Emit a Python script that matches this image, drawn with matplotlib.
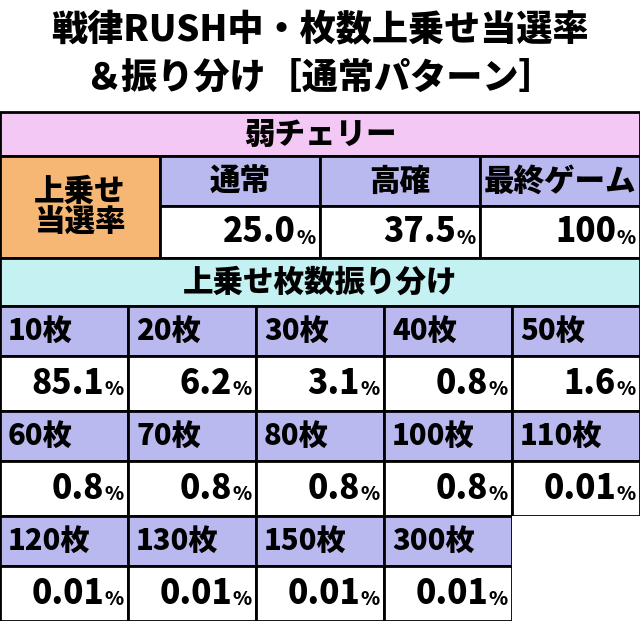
import matplotlib
matplotlib.use('Agg')
import matplotlib.pyplot as plt
from matplotlib.patches import Rectangle

plt.rcParams['font.family'] = ['Noto Sans CJK JP', 'DejaVu Sans']

title_lines = ['戦律RUSH中・枚数上乗せ当選率', '＆振り分け［通常パターン］']
role_name = '弱チェリー'
modes = ['通常', '高確', '最終ゲーム']
mode_rates = ['25.0', '37.5', '100']
dist_title = '上乗せ枚数振り分け'
coins = ['10枚', '20枚', '30枚', '40枚', '50枚',
         '60枚', '70枚', '80枚', '100枚', '110枚',
         '120枚', '130枚', '150枚', '300枚']
coin_rates = ['85.1', '6.2', '3.1', '0.8', '1.6',
              '0.8', '0.8', '0.8', '0.8', '0.01',
              '0.01', '0.01', '0.01', '0.01']

PINK = '#f4c8f4'
ORANGE = '#f7b774'
LAV = '#b9b9ef'
CYAN = '#c4f2f2'
W = 'black'

fig = plt.figure(figsize=(6.4, 6.21), dpi=100)
ax = fig.add_axes([0, 0, 1, 1])
ax.set_xlim(0, 640)
ax.set_ylim(621, 0)
ax.axis('off')

def cell(x, y, w, h, color, text=None, size=22, ha='center'):
    ax.add_patch(Rectangle((x, y), w, h, facecolor=color, edgecolor='black', linewidth=2))
    if text:
        if ha == 'center':
            ax.text(x + w / 2, y + h / 2, text, ha='center', va='center', fontsize=size,
                    fontweight=W, linespacing=1.0)
        else:
            ax.text(x + 8, y + h / 2, text, ha='left', va='center', fontsize=size, fontweight=W)

def value(x, y, w, h, num):
    ax.add_patch(Rectangle((x, y), w, h, facecolor='white', edgecolor='black', linewidth=2))
    ax.text(x + w - 4, y + h / 2 + 6, '%', ha='right', va='center', fontsize=14, fontweight=W)
    ax.text(x + w - 24, y + h / 2, num, ha='right', va='center', fontsize=24, fontweight=W)

ax.text(320, 30, title_lines[0], ha='center', va='center', fontsize=26, fontweight=W)
ax.text(320, 78, title_lines[1], ha='center', va='center', fontsize=26, fontweight=W)

cell(0, 112, 640, 44, PINK, role_name, 22)
cell(0, 156, 160, 102, ORANGE, '上乗せ\n当選率', 22)
for i, (m, r) in enumerate(zip(modes, mode_rates)):
    x = 160 + i * 160
    cell(x, 156, 160, 50, LAV, m, 22)
    value(x, 206, 160, 52, r)

cell(0, 258, 640, 48, CYAN, dist_title, 22)

rows_y = [306, 411, 516]
cw = 128
for k, (c, r) in enumerate(zip(coins, coin_rates)):
    row, col = divmod(k, 5)
    x = col * cw
    y = rows_y[row]
    cell(x, y, cw, 50, LAV, c, 21, ha='left')
    value(x, y + 50, cw, 55, r)
ax.add_patch(Rectangle((512, 516), 128, 105, facecolor='white', edgecolor='none'))

fig.savefig('out.png', dpi=100)
